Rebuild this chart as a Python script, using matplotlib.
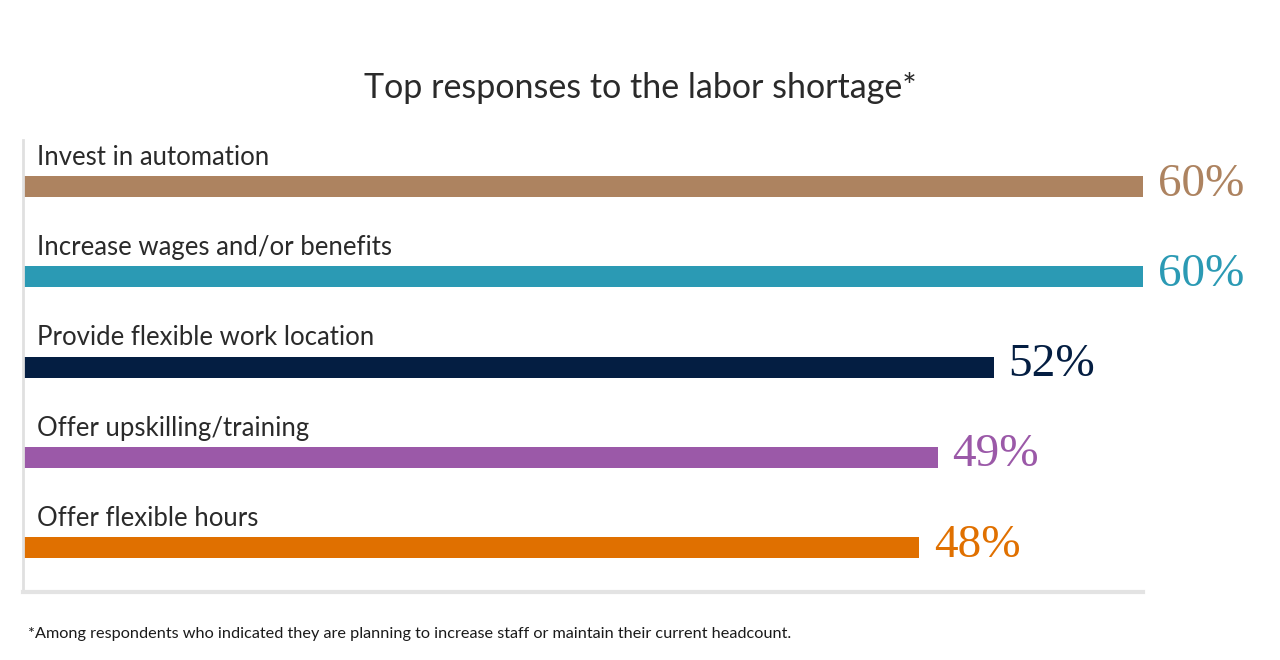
import matplotlib
matplotlib.use('Agg')
import matplotlib.pyplot as plt

categories = ['Invest in automation', 'Increase wages and/or benefits',
              'Provide flexible work location', 'Offer upskilling/training',
              'Offer flexible hours']
values = [60, 60, 52, 49, 48]
colors = ['#AD8360', '#2B9AB4', '#041E42', '#9B59A8', '#E07000']

fig = plt.figure(figsize=(12.8, 6.6), dpi=100)
ax = fig.add_axes([23 / 1280, 1 - 592 / 660, 1120 / 1280, 452 / 660])

ypos = list(range(len(categories)))
ax.barh(ypos, values, height=0.235, color=colors)
ax.set_xlim(0, 60)
ax.set_ylim(4.49, -0.515)

for y, name, v, c in zip(ypos, categories, values, colors):
    ax.text(0.75, y - 0.24, name, fontsize=18.5, family='Lato', color='#2a2a2a',
            va='baseline')
    ax.text(v + 0.8, y + 0.1, f'{v}%', fontsize=34, family='Liberation Serif',
            color=c, va='baseline', ha='left', clip_on=False)

ax.set_xticks([])
ax.set_yticks([])
for s in ['top', 'right']:
    ax.spines[s].set_visible(False)
ax.spines['left'].set_color('#e0e0e0')
ax.spines['left'].set_linewidth(2)
ax.spines['bottom'].set_color('#e3e3e3')
ax.spines['bottom'].set_linewidth(3)

fig.text(640 / 1280, 1 - 88 / 660, 'Top responses to the labor shortage*',
         ha='center', va='center', fontsize=24.5, family='Lato', color='#2a2a2a')
fig.text(28 / 1280, 1 - 634 / 660,
         '*Among respondents who indicated they are planning to increase staff or maintain their current headcount.',
         ha='left', va='center', fontsize=11.7, family='Lato', color='#1a1a1a')

fig.savefig('out.png', dpi=100)
